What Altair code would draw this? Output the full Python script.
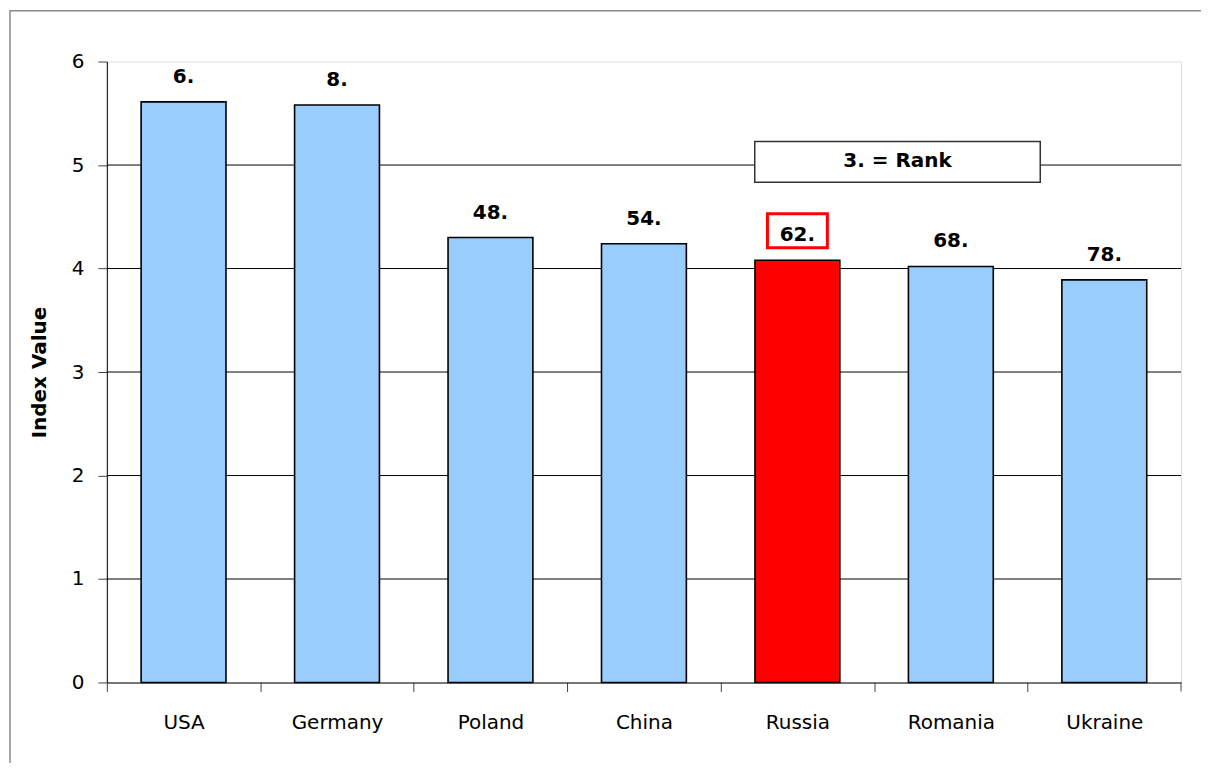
import altair as alt
import pandas as pd

countries = ["USA", "Germany", "Poland", "China", "Russia", "Romania", "Ukraine"]
values = [5.61, 5.58, 4.30, 4.24, 4.08, 4.02, 3.89]
ranks = ["6.", "8.", "48.", "54.", "62.", "68.", "78."]
highlight = ["no", "no", "no", "no", "yes", "no", "no"]
grid_values = [1, 2, 3, 4, 5]
legend_text = ["3. = Rank"]

df = pd.DataFrame({"country": countries, "value": values, "rank": ranks, "hl": highlight})
df["box_lo"] = df["value"] + 0.12
df["box_hi"] = df["value"] + 0.45
df["bg_lo"] = df["value"] + 0.14
df["bg_hi"] = df["value"] + 0.35
grid_df = pd.DataFrame({"g": grid_values})

FONT = "DejaVu Sans"
W, H = 1076, 622
STEP = W / 7

xscale = alt.Scale(domain=countries, paddingInner=0.447, paddingOuter=0.2235)
yscale = alt.Scale(domain=[0, 6], nice=False)

xaxis = alt.Axis(title=None, labelAngle=0, labelFontSize=20, labelFont=FONT,
                 labelColor="black", labelPadding=21, tickOffset=-STEP / 2,
                 labelOffset=STEP / 2,
                 tickSize=9, tickColor="#444", domainColor="black", grid=False)
yaxis = alt.Axis(title="Index Value", titleFontSize=20, titleFont=FONT,
                 titleFontWeight="bold", titleColor="black", titlePadding=22,
                 values=[0, 1, 2, 3, 4, 5, 6], format="d", labelFontSize=20, labelFont=FONT,
                 labelColor="black", labelPadding=14, tickSize=9,
                 tickColor="#444", domainColor="black", grid=False)

grid = alt.Chart(grid_df).mark_rule(color="black", strokeWidth=1).encode(
    y=alt.Y("g:Q", scale=yscale, axis=yaxis)
)

bars = alt.Chart(df).mark_bar(stroke="black", strokeWidth=1.6).encode(
    x=alt.X("country:N", scale=xscale, sort=countries, axis=xaxis),
    y=alt.Y("value:Q", scale=yscale, axis=yaxis),
    color=alt.Color("hl:N", scale=alt.Scale(domain=["no", "yes"], range=["#99CCFF", "#FF0000"]),
                    legend=None),
)

label_bg = alt.Chart(df).mark_bar(size=62, color="white").encode(
    x=alt.X("country:N", scale=xscale, sort=countries),
    y=alt.Y("bg_lo:Q", scale=yscale),
    y2="bg_hi:Q",
)

red_box = alt.Chart(df).transform_filter("datum.hl == 'yes'").mark_bar(
    size=60, fill="white", stroke="#FF0000", strokeWidth=3
).encode(
    x=alt.X("country:N", scale=xscale, sort=countries),
    y=alt.Y("box_lo:Q", scale=yscale),
    y2="box_hi:Q",
)

labels = alt.Chart(df).mark_text(
    baseline="bottom", dy=-15, fontSize=20, fontWeight="bold", font=FONT, color="black"
).encode(
    x=alt.X("country:N", scale=xscale, sort=countries),
    y=alt.Y("value:Q", scale=yscale),
    text="rank:N",
)

legend_df = pd.DataFrame({"t": legend_text})
legend_box = alt.Chart(legend_df).mark_rect(
    fill="white", stroke="#333", strokeWidth=1.5
).encode(
    x=alt.value(649), x2=alt.value(935), y=alt.value(80), y2=alt.value(121)
)
legend_txt = alt.Chart(legend_df).mark_text(
    fontSize=20, fontWeight="bold", font=FONT, color="black", align="center", baseline="middle"
).encode(x=alt.value(792), y=alt.value(100), text="t:N")

end_tick = alt.Chart(legend_df).mark_rule(color="#444", strokeWidth=1).encode(
    x=alt.value(W), y=alt.value(H), y2=alt.value(H + 9)
)

outer = alt.Chart(legend_df).mark_rect(
    filled=False, stroke="#888", strokeWidth=1.5
).encode(
    x=alt.value(-97), x2=alt.value(1100), y=alt.value(-51), y2=alt.value(720)
)

chart = alt.layer(
    outer, grid, bars, label_bg, red_box, labels, legend_box, legend_txt, end_tick
).properties(
    width=W, height=H,
    autosize=alt.AutoSizeParams(type="none"),
    padding={"left": 99, "top": 53, "right": 20, "bottom": 80},
).configure_view(
    stroke="#888", strokeWidth=1.5
).configure(background="white")

chart.save("out.html", embed_options={"renderer": "svg", "actions": False})
